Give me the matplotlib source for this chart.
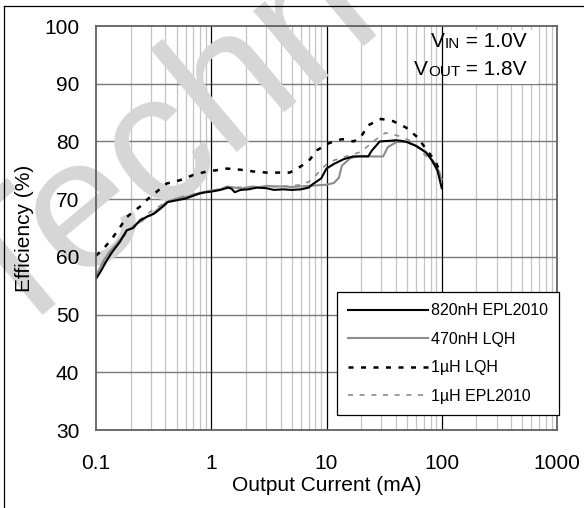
import matplotlib.pyplot as plt
from matplotlib.lines import Line2D
from matplotlib.patches import Rectangle
from matplotlib.ticker import NullFormatter

plt.rcParams['font.family'] = ['Liberation Sans', 'DejaVu Sans']

# --- data (output current in mA, efficiency in %)
i_820n_epl = [0.1, 0.11, 0.125, 0.14, 0.16, 0.185, 0.21, 0.24, 0.28, 0.32, 0.37, 0.42, 0.5, 0.6, 0.7,
              0.8, 0.9, 1.0, 1.2, 1.4, 1.5, 1.6, 1.8, 2.1, 2.5, 3.0, 3.5, 4.2, 5.0, 6.0, 7.0, 7.6, 9.0,
              10, 11.6, 14, 17, 20, 23, 24.7, 29, 35, 40, 45, 50, 60, 73, 83, 92, 100]
eff_820n_epl = [56.2, 57.5, 59.5, 61.0, 62.5, 64.6, 65.0, 66.3, 67.0, 67.5, 68.5, 69.5, 69.8, 70.1, 70.6,
                71.0, 71.2, 71.3, 71.6, 72.0, 71.8, 71.2, 71.6, 71.7, 72.0, 71.9, 71.6, 71.7, 71.6, 71.7, 72.0, 72.6, 73.6,
                75.3, 76.1, 76.9, 77.4, 77.4, 77.4, 78.4, 80.0, 80.1, 80.2, 80.1, 79.9, 79.2, 78.1, 76.6, 74.9, 71.9]

i_470n_lqh = [0.1, 0.116, 0.13, 0.151, 0.17, 0.185, 0.205, 0.226, 0.25, 0.276, 0.3, 0.337, 0.37, 0.41, 0.5,
              0.61, 0.7, 0.8, 1.0, 1.2, 1.37, 1.6, 1.79, 2.0, 2.3, 2.6, 3.03, 3.5, 4.26, 5, 5.9, 7, 8.3,
              10, 11.6, 12.8, 13.6, 16.1, 19.5, 25, 31, 34, 40.5, 49, 60, 73, 89, 100]
eff_470n_lqh = [56.7, 59.3, 60.8, 62.2, 63.5, 64.6, 65.0, 65.8, 66.2, 67.0, 67.2, 68.1, 68.8, 69.5, 70.1,
                70.4, 70.8, 71.1, 71.5, 71.7, 72.2, 72.0, 71.8, 72.0, 72.2, 72.0, 72.3, 72.2, 72.2, 72.1, 72.2, 72.3, 72.4,
                72.5, 72.8, 73.7, 75.8, 77.1, 77.5, 77.4, 77.4, 79.0, 79.9, 79.9, 79.3, 78.1, 76.0, 73.4]

i_1u_lqh = [0.1, 0.116, 0.137, 0.16, 0.185, 0.21, 0.241, 0.28, 0.337, 0.41, 0.54, 0.70, 0.92, 1.1, 1.37,
            1.79, 2.3, 3.03, 3.7, 4.8, 5.9, 7.0, 8.3, 10.5, 13.6, 17.2, 19.9, 23, 29.8, 38, 49, 61, 75, 89, 98]
eff_1u_lqh = [60.2, 61.4, 63.1, 65.0, 66.9, 67.8, 68.7, 70.0, 71.3, 72.7, 73.3, 74.2, 74.8, 75.0, 75.3,
              75.1, 74.8, 74.6, 74.6, 74.6, 75.6, 76.6, 78.5, 79.7, 80.4, 80.0, 80.8, 82.8, 83.9, 83.5, 82.4, 80.8, 78.4, 76.4, 74.3]

i_1u_epl = [0.1, 0.13, 0.17, 0.22, 0.3, 0.4, 0.55, 0.75, 1.0, 1.5, 2, 3, 4, 5, 6, 7, 8, 9,
            10.5, 13.1, 16, 20, 25.4, 32.5, 41.5, 52, 63.9, 77.8, 88, 95, 100]
eff_1u_epl = [56.8, 60.5, 63.3, 65.8, 67.9, 69.4, 70.4, 71.0, 71.5, 72.0, 72.1, 72.2, 72.2, 72.3, 72.5, 73.0, 74.0, 75.2,
              76.4, 77.1, 77.6, 78.2, 80.0, 81.5, 81.0, 80.2, 78.7, 76.9, 75.8, 74.9, 73.2]

series_labels = ['820nH EPL2010', '470nH LQH', '1\u00b5H LQH', '1\u00b5H EPL2010']
x_ticks = [0.1, 1, 10, 100, 1000]
x_tick_labels = ['0.1', '1', '10', '100', '1000']
y_ticks = [30, 40, 50, 60, 70, 80, 90, 100]

W, H = 584, 508
fig = plt.figure(figsize=(W / 100, H / 100), dpi=100)
ax = fig.add_axes([96 / W, 1 - 430 / H, 461 / W, 404 / H])

ax.set_xscale('log')
ax.set_xlim(0.1, 1000)
ax.set_ylim(30, 100)

# grid drawn by hand so the watermark can sit between grid and curves
for y in y_ticks[1:-1]:
    ax.axhline(y, color='#7a7a7a', lw=1.0, zorder=0.8)
for d in [0.1, 1, 10, 100]:
    for k in range(2, 10):
        ax.axvline(d * k, color='#c4c4c4', lw=0.9, zorder=0.7)
for d in [1, 10, 100]:
    ax.axvline(d, color='black', lw=0.9, zorder=0.8)

# watermark
ax.text(196 / W, 1 - 184 / H, 'Techn', transform=fig.transFigure, fontsize=134,
        color='#d6d6d6', rotation=40, rotation_mode='anchor',
        ha='center', va='baseline', clip_on=False, zorder=1)

ax.plot(i_820n_epl, eff_820n_epl, color='black', lw=1.5, zorder=2.3, label=series_labels[0])
ax.plot(i_470n_lqh, eff_470n_lqh, color='#8c8c8c', lw=1.5, zorder=2.1, label=series_labels[1])
ax.plot(i_1u_lqh, eff_1u_lqh, color='black', lw=1.8, dashes=(2, 3), zorder=2.4, label=series_labels[2])
ax.plot(i_1u_epl, eff_1u_epl, color='#8c8c8c', lw=1.2, dashes=(3, 4), zorder=2.2, label=series_labels[3])

ax.set_xticks(x_ticks)
ax.set_xticklabels(x_tick_labels)
ax.xaxis.set_minor_formatter(NullFormatter())
ax.set_yticks(y_ticks)
ax.tick_params(which='both', length=0, labelsize=15)
ax.tick_params(axis='x', pad=17)
ax.tick_params(axis='y', pad=12)
for s in ax.spines.values():
    s.set_color('#606060')
    s.set_linewidth(1.3)

ax.set_xlabel('Output Current (mA)', fontsize=15)
ax.set_ylabel('Efficiency (%)', fontsize=15)
ax.xaxis.set_label_coords(0.5, -0.115)
ax.yaxis.set_label_coords(-0.135, 0.5)

# condition box
ax.add_patch(Rectangle((447 / W, 1 - 84 / H), 91 / W, 54 / H, transform=fig.transFigure,
                       facecolor='white', edgecolor='none', zorder=1.5, clip_on=False))
for yb, sub, val in [(47, 'IN', ' = 1.0V'), (75, 'OUT', ' = 1.8V')]:
    t3 = ax.text(527 / W, 1 - yb / H, val, transform=fig.transFigure, fontsize=15,
                 ha='right', va='baseline', zorder=3, clip_on=False)
    t2 = ax.annotate(sub, xy=(0, 0), xycoords=t3, fontsize=11, ha='right', va='bottom',
                     annotation_clip=False, zorder=3)
    ax.annotate('V', xy=(0, 0), xycoords=t2, fontsize=15, ha='right', va='bottom',
                annotation_clip=False, zorder=3)

leg = ax.legend(loc='upper left', bbox_to_anchor=(337 / W, 1 - 292 / H), bbox_transform=fig.transFigure,
                fontsize=11.5, handlelength=5.0, handletextpad=0.2, labelspacing=0.85,
                borderpad=0.7, borderaxespad=0, fancybox=False, framealpha=1)
leg.get_frame().set_edgecolor('black')
leg.get_frame().set_linewidth(0.9)
leg.set_zorder(5)

# outer frame of the figure (left and top edges)
fig.lines.append(Line2D([4 / W, 4 / W], [0, 1 - 6 / H], transform=fig.transFigure, color='black', lw=0.9))
fig.lines.append(Line2D([4 / W, 1], [1 - 6 / H, 1 - 6 / H], transform=fig.transFigure, color='black', lw=0.9))

fig.savefig('out.png', dpi=100)
